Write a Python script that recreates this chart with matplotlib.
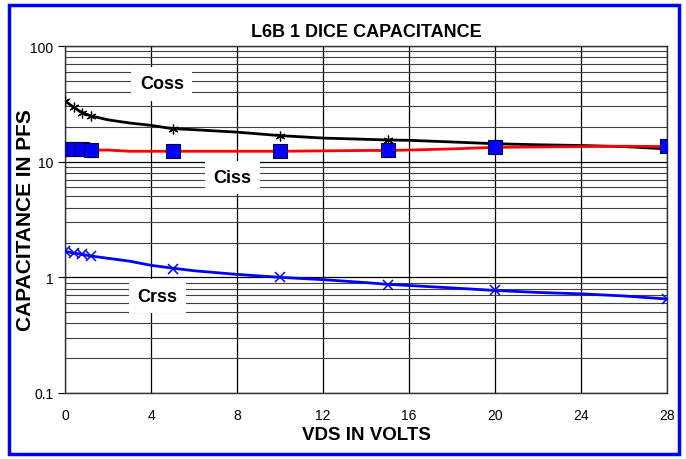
import matplotlib.pyplot as plt
import numpy as np
from matplotlib.patches import Rectangle
from matplotlib.ticker import FixedLocator, NullFormatter

plt.rcParams['font.family'] = ['Liberation Sans', 'DejaVu Sans']

# curves
v_line = [0, 0.4, 0.8, 1.2, 2, 3, 4, 5, 6, 8, 10, 12, 14, 15, 16, 18, 20, 22, 24, 26, 28]
coss_line = [33.5, 29.5, 26.5, 24.9, 23.0, 21.6, 20.6, 19.3, 18.9, 18.0, 16.8, 16.0, 15.6, 15.4, 15.3, 14.8, 14.3, 14.0, 13.8, 13.5, 12.9]
ciss_line = [12.9, 12.9, 12.9, 12.6, 12.6, 12.3, 12.3, 12.3, 12.3, 12.3, 12.3, 12.4, 12.5, 12.5, 12.6, 12.9, 13.3, 13.4, 13.5, 13.6, 13.5]
crss_line = [1.68, 1.62, 1.58, 1.53, 1.46, 1.38, 1.27, 1.20, 1.14, 1.06, 1.00, 0.955, 0.90, 0.87, 0.85, 0.81, 0.77, 0.74, 0.72, 0.69, 0.65]

# measured points
v_pts = [0, 0.4, 0.8, 1.2, 5, 10, 15, 20, 28]
coss_pts = [33.5, 29.5, 26.5, 24.9, 19.3, 16.6, 15.3, 14.3, 13.0]
ciss_pts = [12.9, 12.9, 12.9, 12.6, 12.3, 12.3, 12.5, 13.3, 13.6]
crss_pts = [1.68, 1.62, 1.58, 1.53, 1.18, 1.00, 0.86, 0.77, 0.65]

x_ticks = [0, 4, 8, 12, 16, 20, 24, 28]
y_ticks = [0.1, 1, 10, 100]
y_labels = ['0.1', '1', '10', '100']

fig = plt.figure(figsize=(6.86, 4.6), dpi=100)
ax = fig.add_axes([0.0948, 0.1435, 0.8775, 0.7543])

ax.set_yscale('log')
ax.set_xlim(0, 28)
ax.set_ylim(0.1, 100)

minor = [m * 10.0**e for e in (-1, 0, 1) for m in range(2, 10)]
ax.yaxis.set_minor_locator(FixedLocator(minor))
ax.yaxis.set_minor_formatter(NullFormatter())
ax.set_yticks(y_ticks)
ax.set_yticklabels(y_labels)
ax.set_xticks(x_ticks)

ax.grid(True, which='major', axis='both', color='black', linewidth=0.9)
ax.grid(True, which='minor', axis='y', color='#404040', linewidth=0.8)
ax.tick_params(axis='x', length=0, pad=11, labelsize=10)
ax.tick_params(axis='y', which='major', length=5, direction='out', labelsize=10)
ax.tick_params(axis='y', which='minor', length=0)
for s in ax.spines.values():
    s.set_color('#303030')
    s.set_linewidth(1.0)

ax.plot(v_line, coss_line, color='black', linewidth=2, zorder=3)
ax.plot(v_line, ciss_line, color='red', linewidth=2, zorder=3)
ax.plot(v_line, crss_line, color='blue', linewidth=2, zorder=3)
ax.plot(v_pts, coss_pts, linestyle='none', marker=(6, 2, 0), markersize=7, color='black', markeredgewidth=0.9, zorder=4)
ax.plot(v_pts, ciss_pts, linestyle='none', marker='s', markersize=10, markerfacecolor='blue', markeredgecolor='#000040', markeredgewidth=0.8, zorder=5)
ax.plot(v_pts, crss_pts, linestyle='none', marker='x', markersize=7, color='blue', markeredgewidth=1.1, zorder=4)

box = dict(facecolor='white', edgecolor='none', pad=6)
ax.text(4.5, 47, 'Coss', fontsize=13, fontweight='bold', ha='center', va='center', bbox=box, zorder=6)
ax.text(7.8, 7.3, 'Ciss', fontsize=13, fontweight='bold', ha='center', va='center', bbox=box, zorder=6)
ax.text(4.3, 0.686, 'Crss', fontsize=13, fontweight='bold', ha='center', va='center', bbox=box, zorder=6)

ax.set_title('L6B 1 DICE CAPACITANCE', fontsize=13, fontweight='bold', pad=7)
ax.set_xlabel('VDS IN VOLTS', fontsize=13.5, fontweight='bold', labelpad=3)
ax.set_ylabel('CAPACITANCE IN PFS', fontsize=15, fontweight='bold')
ax.yaxis.set_label_coords(-0.05, 0.5)

fig.patches.append(Rectangle((9 / 686, 5 / 460), 670 / 686, 449 / 460, transform=fig.transFigure,
                             fill=False, edgecolor='blue', linewidth=2.5))

fig.savefig('out.png', dpi=100)
